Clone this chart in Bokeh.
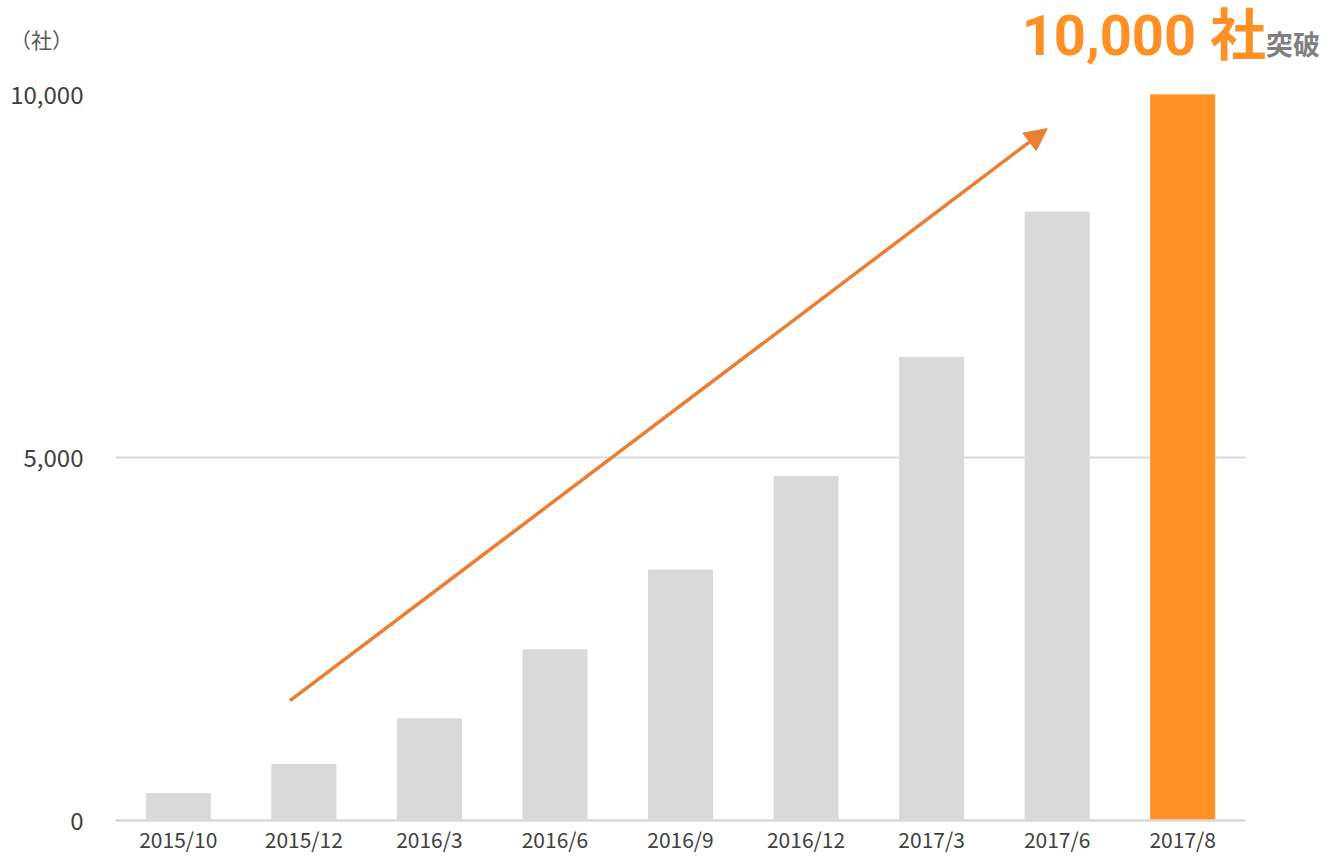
from bokeh.plotting import figure
from bokeh.models import (FactorRange, Range1d, FixedTicker, NumeralTickFormatter,
                          Arrow, NormalHead, ColumnDataSource, Div)
from bokeh.layouts import column
from bokeh.embed import file_html
from bokeh.resources import INLINE

# ---- data ----
categories = ["2015/10", "2015/12", "2016/3", "2016/6", "2016/9",
              "2016/12", "2017/3", "2017/6", "2017/8"]
companies = [370, 770, 1400, 2350, 3450, 4740, 6380, 8380, 10000]
bar_colors = ["#d9d9d9"] * 8 + ["#ff9124"]
y_ticks = [0, 5000, 10000]

title_main = "10,000 社"
title_sub = "突破"
unit_label = "（社）"

FONT = "Noto Sans CJK JP"
HEADER_H = 70

src = ColumnDataSource(dict(cat=categories, val=companies, color=bar_colors))

p = figure(width=1340, height=857 - HEADER_H, output_backend="svg", toolbar_location=None,
           x_range=FactorRange(*categories, range_padding=0),
           y_range=Range1d(0, 10000),
           min_border_left=115, min_border_right=95,
           min_border_top=94 - HEADER_H, min_border_bottom=37)
p.margin = (0, 0, 0, 0)
p.outline_line_color = None
p.background_fill_color = "white"
p.border_fill_color = "white"

p.vbar(x="cat", top="val", width=0.51, color="color", source=src)

# axes
p.yaxis.ticker = FixedTicker(ticks=y_ticks)
p.yaxis.formatter = NumeralTickFormatter(format="0,0")
p.yaxis.axis_line_color = None
p.yaxis.major_tick_line_color = None
p.yaxis.minor_tick_line_color = None
p.yaxis.major_label_standoff = 26
p.yaxis.major_label_text_font = FONT
p.yaxis.major_label_text_font_size = "24px"
p.yaxis.major_label_text_color = "#404040"

p.xaxis.axis_line_color = "#d9d9d9"
p.xaxis.axis_line_width = 2.5
p.xaxis.major_tick_line_color = None
p.xaxis.minor_tick_line_color = None
p.xaxis.major_tick_in = 0
p.xaxis.major_tick_out = 0
p.xaxis.major_label_standoff = 3
p.xaxis.major_label_text_font = FONT
p.xaxis.major_label_text_font_size = "21px"
p.xaxis.major_label_text_color = "#404040"

p.xgrid.grid_line_color = None
p.ygrid.grid_line_color = "#d9d9d9"
p.ygrid.grid_line_width = 2

# trend arrow
arrow_start = (1.39, 1650)
arrow_end = (7.42, 9530)
p.add_layout(Arrow(end=NormalHead(size=22, fill_color="#ed7d31", line_color="#ed7d31"),
                   x_start=arrow_start[0], y_start=arrow_start[1],
                   x_end=arrow_end[0], y_end=arrow_end[1],
                   line_color="#ed7d31", line_width=3.5))

header_html = f"""
<div style="position:relative;width:1340px;height:{HEADER_H}px;margin:0;padding:0;">
  <div style="position:absolute;left:10px;top:24px;font-family:'{FONT}';font-size:21px;line-height:30px;color:#595959;white-space:nowrap;">{unit_label}</div>
  <div style="position:absolute;right:20px;top:6px;font-family:Roboto,'{FONT}';font-size:56px;line-height:60px;font-weight:bold;white-space:nowrap;">
    <span style="color:#ff9124;">{title_main}</span><span style="font-family:'{FONT}';font-size:27px;color:#7f7f7f;">{title_sub}</span>
  </div>
</div>
"""
header = Div(text=header_html, width=1340, height=HEADER_H, margin=(0, 0, 0, 0))

layout = column(header, p, spacing=0)
open("out.html", "w").write(file_html(layout, INLINE))
